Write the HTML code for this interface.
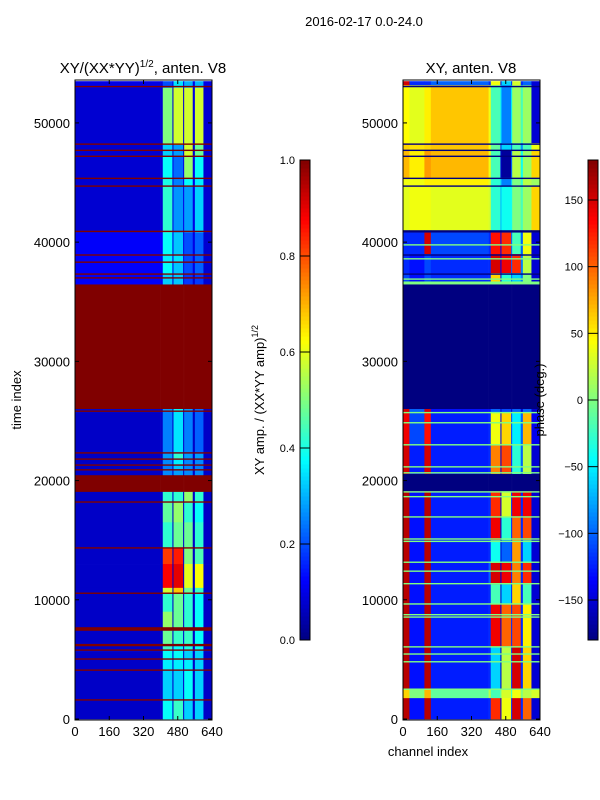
<!DOCTYPE html>
<html><head><meta charset="utf-8"><style>
body{margin:0;background:#fff;}
svg{display:block;font-family:"Liberation Sans","DejaVu Sans",sans-serif;}
</style></head><body>
<svg id="fig" width="600" height="800" viewBox="0 0 600 800">
<rect width="600" height="800" fill="#fff"/>
<text x="364" y="26" font-size="13" text-anchor="middle">2016-02-17 0.0-24.0</text>
<text x="143" y="73" font-size="15" text-anchor="middle">XY/(XX*YY)<tspan font-size="10" dy="-6">1/2</tspan><tspan dy="6">, anten. V8</tspan></text>
<text x="471" y="73" font-size="15" text-anchor="middle">XY, anten. V8</text>
<text transform="translate(21,400) rotate(-90)" font-size="13" text-anchor="middle">time index</text>
<text x="428" y="756" font-size="13" text-anchor="middle">channel index</text>
<text transform="translate(264,400) rotate(-90)" font-size="13" text-anchor="middle">XY amp. / (XX*YY amp)<tspan font-size="9" dy="-6">1/2</tspan></text>
<g id="ampPanel"></g>
<g id="phasePanel"></g>
<g id="ampBar"></g>
<g id="phaseBar"></g>
<text transform="translate(544,400) rotate(-90)" font-size="13" text-anchor="middle">phase (deg.)</text>
</svg>
<script>
// ---- data ----
const ampChanEdges = [0,400,410,455,460,505,510,550,560,600,640];
const ampBandTop =    [53500,52950,48150,47150,45300,44650,40800,38850,38250,37250,36950,36450,26000,25750,22250,21750,21250,20850,20450,19050,18150,16500,14300,13000,11000,10500,9000,7700,7400,6300,6100,5700,4950,4050,1550];
const ampBandBottom = [52950,48150,47150,45300,44650,40800,38850,38250,37250,36950,36450,26000,25750,22250,21750,21250,20850,20450,19050,18150,16500,14300,13000,11000,10500,9000,7700,7400,6300,6100,5700,4950,4050,1550,0];
const ampVals = [
[0.1,0.1,0.2,0.1,0.35,0.1,0.3,0.1,0.3,0.1],
[0.08,0.08,0.5,0.08,0.58,0.08,0.58,0.1,0.58,0.08],
[0.08,0.08,0.33,0.08,0.28,0.08,0.58,0.08,0.48,0.08],
[0.08,0.08,0.38,0.1,0.23,0.1,0.52,0.1,0.38,0.08],
[0.08,0.08,0.4,0.1,0.25,0.1,0.38,0.1,0.36,0.08],
[0.08,0.08,0.42,0.1,0.27,0.1,0.28,0.1,0.33,0.08],
[0.12,0.12,0.38,0.1,0.32,0.1,0.2,0.1,0.22,0.08],
[0.12,0.12,0.36,0.1,0.35,0.1,0.2,0.1,0.22,0.08],
[0.12,0.12,0.38,0.1,0.32,0.1,0.2,0.1,0.22,0.08],
[0.12,0.12,0.33,0.08,0.32,0.08,0.18,0.08,0.18,0.08],
[0.12,0.12,0.33,0.08,0.32,0.08,0.18,0.08,0.18,0.08],
[1,1,1,1,1,1,1,1,1,1],
[0.07,0.07,0.28,0.07,0.38,0.07,0.28,0.07,0.23,0.07],
[0.07,0.07,0.25,0.07,0.35,0.07,0.25,0.07,0.22,0.07],
[0.07,0.07,0.28,0.07,0.42,0.07,0.28,0.07,0.28,0.07],
[0.07,0.07,0.26,0.07,0.36,0.07,0.26,0.07,0.26,0.07],
[0.07,0.07,0.25,0.07,0.32,0.07,0.26,0.07,0.25,0.07],
[0.07,0.07,0.26,0.07,0.28,0.07,0.26,0.07,0.26,0.07],
[1,1,1,1,1,1,1,1,1,1],
[0.07,0.07,0.42,0.07,0.42,0.07,0.52,0.07,0.42,0.07],
[0.07,0.07,0.47,0.07,0.52,0.07,0.42,0.07,0.38,0.07],
[0.07,0.07,0.42,0.07,0.48,0.07,0.48,0.07,0.42,0.07],
[0.07,0.07,0.82,0.07,0.85,0.07,0.5,0.07,0.45,0.07],
[0.07,0.07,0.88,0.07,0.9,0.07,0.6,0.07,0.62,0.07],
[0.07,0.07,0.58,0.07,0.68,0.07,0.48,0.07,0.43,0.07],
[0.07,0.07,0.42,0.07,0.48,0.07,0.42,0.07,0.38,0.07],
[0.07,0.07,0.52,0.07,0.48,0.07,0.42,0.07,0.38,0.07],
[1,1,1,1,1,1,1,1,1,1],
[0.07,0.07,0.48,0.07,0.43,0.07,0.43,0.07,0.38,0.07],
[1,1,1,1,1,1,1,1,1,1],
[0.07,0.07,0.43,0.07,0.38,0.07,0.4,0.07,0.38,0.07],
[0.07,0.07,0.38,0.07,0.38,0.07,0.33,0.07,0.33,0.07],
[0.07,0.07,0.36,0.07,0.36,0.07,0.36,0.07,0.33,0.07],
[0.07,0.07,0.33,0.07,0.33,0.07,0.38,0.07,0.33,0.07],
[0.07,0.07,0.38,0.07,0.43,0.07,0.33,0.07,0.33,0.07]
];
const ampLineTimes = [53050,48220,47700,47200,45350,44700,40900,38920,38320,37320,37000,25820,22320,21800,21300,20900,18200,14350,10550,5780,5030,4100,1600];
const ampLineVals =  [1,1,1,1,1,1,1,1,1,1,1,1,1,1,1,1,1,1,1,1,1,1,1];

const phaseChanEdges = [0,30,100,130,400,410,455,460,505,510,550,560,600,640];
const phaseBandTop =    [53500,53150,48300,47700,45400,44700,41000,40800,39000,37400,36700,36450,26000,25700,23000,20550,19100,16900,15000,13100,11300,9600,6000,2500,1750];
const phaseBandBottom = [53150,48300,47700,45400,44700,41000,40800,39000,37400,36700,36450,26000,25700,23000,20550,19100,16900,15000,13100,11300,9600,6000,2500,1750,0];
const phaseVals = [
[150,-120,-120,-100,-120,40,-140,-60,-120,30,-120,-100,-150],
[45,35,50,65,40,-20,-50,-90,-50,10,-20,10,-150],
[60,55,60,65,45,-10,-120,-60,-100,-20,-80,-20,40],
[70,50,80,70,40,-20,-150,-170,-100,20,-40,10,60],
[40,40,50,50,35,-30,-60,-90,-60,0,-30,20,10],
[35,40,40,35,30,-30,-70,-40,-40,0,-20,10,60],
[-180,-180,-180,-180,-180,-180,-180,-180,-180,-180,-180,-180,-180],
[-120,-120,150,-110,-120,130,-140,120,-100,-20,-100,40,-150],
[-120,-130,-110,-120,-120,150,-140,140,-100,120,-90,20,-150],
[-110,-130,-110,-120,-120,60,-140,-30,-100,-60,-90,0,-150],
[0,0,0,0,0,0,0,0,0,0,0,0,0],
[-180,-180,-180,-180,-180,-180,-180,-180,-180,-180,-180,-180,-180],
[150,-100,150,-130,-130,-100,-150,-110,-150,-100,-150,-100,-150],
[140,-110,130,-125,-120,40,-140,60,-110,-50,-100,70,-140],
[150,-125,150,-125,-120,90,-150,110,-120,-30,-100,20,-150],
[-180,-180,-180,-180,-180,-180,-180,-180,-180,-180,-180,-180,-180],
[160,-130,160,-125,-120,120,-150,30,-120,140,-120,140,-150],
[160,-130,160,-125,-120,140,-150,-30,-120,100,-120,110,-150],
[160,-130,160,-125,-120,-40,-150,-100,-120,80,-120,-60,-150],
[160,-130,160,-125,-100,150,-150,140,-120,90,-120,120,-150],
[160,-130,160,-125,-120,-20,-150,-60,-120,60,-120,-20,-150],
[160,-130,160,-125,-120,140,-150,100,-120,110,-120,50,-150],
[160,-130,160,-125,-120,-60,-150,20,-120,150,-120,60,-150],
[60,0,70,-10,20,-20,0,30,-30,40,0,20,30],
[160,-130,160,-125,-120,120,-150,40,-120,150,-120,100,-150]
];
const phaseLineTimes = [53050,48220,47700,47200,45350,44700,39770,38920,38600,37320,36900,25700,24850,23000,21150,20650,19050,18650,16950,15100,14900,13150,12400,11350,9650,8750,8550,6050,5450,4800,2500];
const phaseLineVals =  [-180,-180,-180,-180,-180,-180,0,-180,0,-180,0,0,0,0,0,0,0,0,0,0,0,0,0,0,0,0,0,0,0,0,0];

const xTickVals = [0,160,320,480,640];
const yTickVals = [0,10000,20000,30000,40000,50000];
const ampBarTicks = [0,0.2,0.4,0.6,0.8,1.0];
const phaseBarTicks = [-150,-100,-50,0,50,100,150];

// ---- helpers ----
const NS = "http://www.w3.org/2000/svg";
function jet(v){v=Math.max(0,Math.min(1,v));const c=x=>Math.round(255*Math.max(0,Math.min(1,1.5-Math.abs(x))));return `rgb(${c(4*v-3)},${c(4*v-2)},${c(4*v-1)})`;}
function mk(tag,parent){const e=document.createElementNS(NS,tag);parent.appendChild(e);return e;}
const Y0=719, YTOP=80, TMAX=53600;
function yScale(t){return Y0-t*(Y0-YTOP)/TMAX;}
function makeX(x0){return ch=>x0+ch*137/640;}

function drawPanel(g,x0,edges,tops,bottoms,vals,lineT,lineV,norm,prefix){
  const xs=makeX(x0);
  const clip=mk('clipPath',g);clip.setAttribute('id',prefix+'-clip');
  const cr=mk('rect',clip);cr.setAttribute('x',x0);cr.setAttribute('y',YTOP);cr.setAttribute('width',137);cr.setAttribute('height',Y0+1-YTOP);
  const cells=mk('g',g);cells.setAttribute('clip-path',`url(#${prefix}-clip)`);
  
  
  for(let r=0;r<vals.length;r++){
    for(let c=0;c<edges.length-1;c++){
      const rc=mk('rect',cells);
      const xa=xs(edges[c]),xb=xs(edges[c+1]),ya=yScale(tops[r]),yb=yScale(bottoms[r]);
      rc.setAttribute('x',xa);rc.setAttribute('y',ya);rc.setAttribute('width',xb-xa+0.3);rc.setAttribute('height',yb-ya+0.3);
      rc.setAttribute('fill',jet(norm(vals[r][c])));
      
      
    }
  }
  for(let i=0;i<lineT.length;i++){
    const ln=mk('rect',cells);
    ln.setAttribute('x',x0);ln.setAttribute('y',yScale(lineT[i])-0.7);ln.setAttribute('width',137);ln.setAttribute('height',1.4);
    ln.setAttribute('fill',jet(norm(lineV[i])));
    
    
  }
  const fr=mk('rect',g);fr.setAttribute('x',x0);fr.setAttribute('y',YTOP);fr.setAttribute('width',137);fr.setAttribute('height',Y0+1-YTOP);
  fr.setAttribute('fill','none');fr.setAttribute('stroke','#000');fr.setAttribute('stroke-width','1');
  
  
  xTickVals.forEach(v=>{
    const x=xs(v);
    const t=mk('line',g);t.setAttribute('x1',x);t.setAttribute('x2',x);t.setAttribute('y1',Y0+1);t.setAttribute('y2',Y0-3);t.setAttribute('stroke','#000');
    const t2=mk('line',g);t2.setAttribute('x1',x);t2.setAttribute('x2',x);t2.setAttribute('y1',YTOP);t2.setAttribute('y2',YTOP+4);t2.setAttribute('stroke','#000');
    const lb=mk('text',g);lb.setAttribute('x',x);lb.setAttribute('y',Y0+17);lb.setAttribute('font-size','13');lb.setAttribute('text-anchor','middle');lb.textContent=v;
    
    
  });
  yTickVals.forEach(v=>{
    const y=yScale(v);
    const t=mk('line',g);t.setAttribute('x1',x0);t.setAttribute('x2',x0+4);t.setAttribute('y1',y);t.setAttribute('y2',y);t.setAttribute('stroke','#000');
    const t2=mk('line',g);t2.setAttribute('x1',x0+137);t2.setAttribute('x2',x0+133);t2.setAttribute('y1',y);t2.setAttribute('y2',y);t2.setAttribute('stroke','#000');
    const lb=mk('text',g);lb.setAttribute('x',x0-5);lb.setAttribute('y',y+5);lb.setAttribute('font-size','13');lb.setAttribute('text-anchor','end');lb.textContent=v;
    
    
  });
}
function drawBar(g,x0,ticks,norm,fmt,prefix){
  const n=120,top=160,bot=640;
  for(let i=0;i<n;i++){
    const r=mk('rect',g);r.setAttribute('x',x0);r.setAttribute('y',bot-(i+1)*(bot-top)/n);r.setAttribute('width',10);r.setAttribute('height',(bot-top)/n+0.5);
    r.setAttribute('fill',jet((i+0.5)/n));
  }
  const fr=mk('rect',g);fr.setAttribute('x',x0);fr.setAttribute('y',top);fr.setAttribute('width',10);fr.setAttribute('height',bot-top);fr.setAttribute('fill','none');fr.setAttribute('stroke','#000');
  ticks.forEach(v=>{
    const y=bot-norm(v)*(bot-top);
    const t=mk('line',g);t.setAttribute('x1',x0);t.setAttribute('x2',x0+10);t.setAttribute('y1',y);t.setAttribute('y2',y);t.setAttribute('stroke','#000');
    const lb=mk('text',g);lb.setAttribute('x',x0-5);lb.setAttribute('y',y+4);lb.setAttribute('font-size','11');lb.setAttribute('text-anchor','end');lb.textContent=fmt(v);
    
    
  });
}
const ampNorm=v=>v, phaseNorm=v=>(v+180)/360;
drawPanel(document.getElementById('ampPanel'),75,ampChanEdges,ampBandTop,ampBandBottom,ampVals,ampLineTimes,ampLineVals,ampNorm,'amp');
drawPanel(document.getElementById('phasePanel'),403,phaseChanEdges,phaseBandTop,phaseBandBottom,phaseVals,phaseLineTimes,phaseLineVals,phaseNorm,'phase');
drawBar(document.getElementById('ampBar'),300,ampBarTicks,v=>v,v=>v.toFixed(1),'amp-colorbar');
drawBar(document.getElementById('phaseBar'),588,phaseBarTicks,v=>(v+180)/360,v=>v<0?'\u2212'+(-v):String(v),'phase-colorbar');
</script>
</body></html>
